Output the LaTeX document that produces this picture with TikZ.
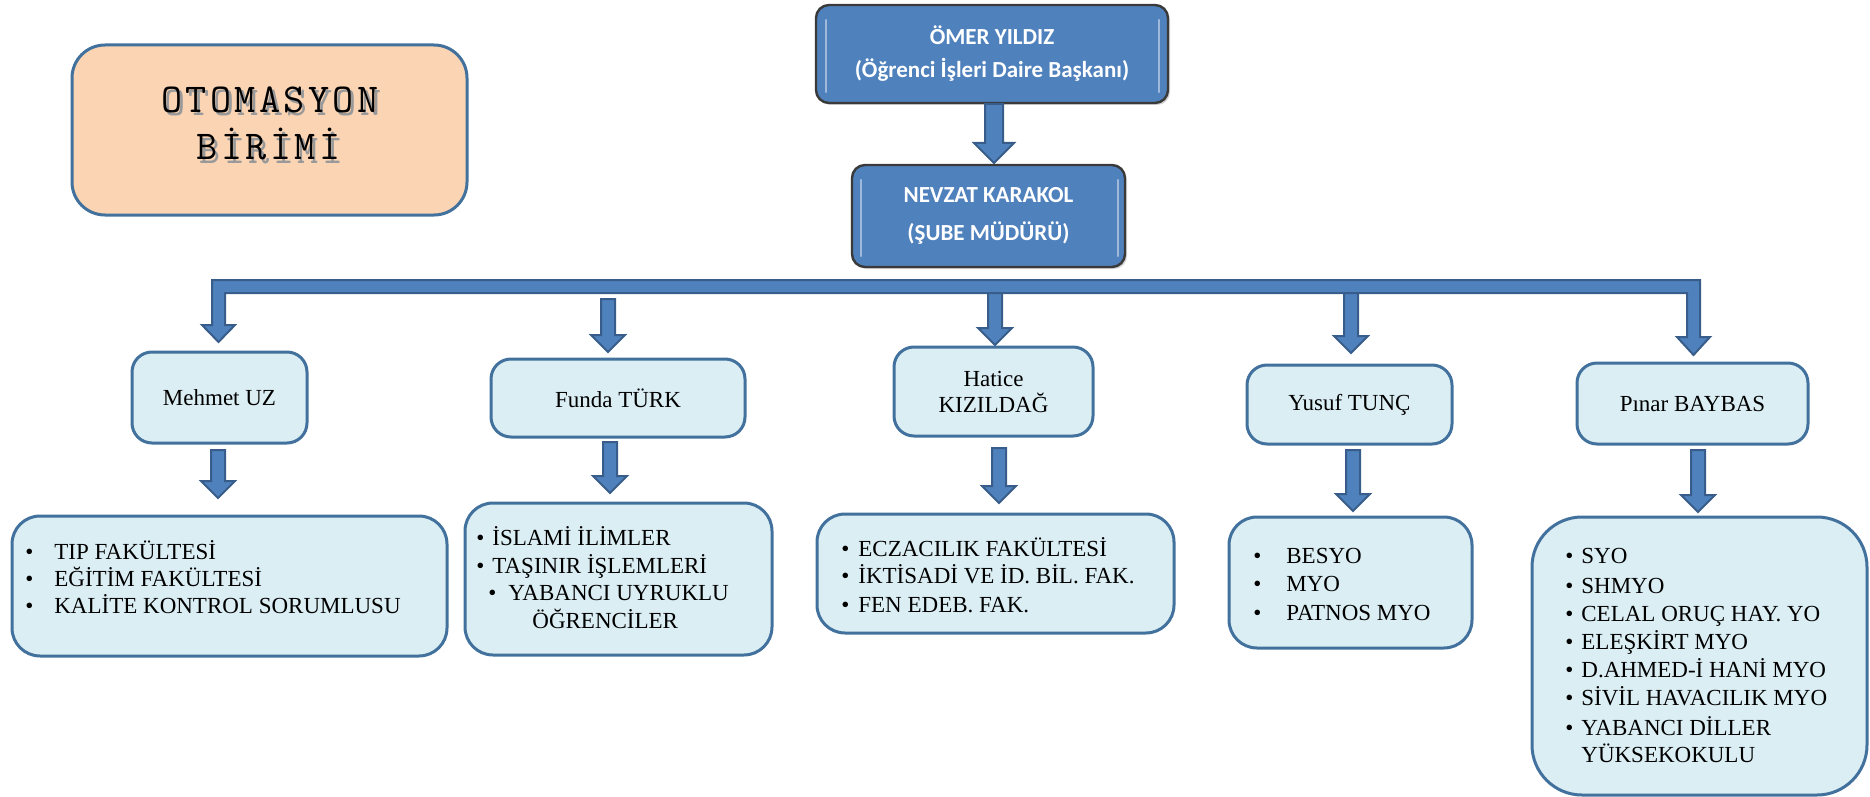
\documentclass[tikz,border=0pt]{standalone}
\usepackage{fontspec}
\setmainfont{Liberation Serif}
\newfontfamily\calib{Carlito}
\usetikzlibrary{calc,shadows}
\definecolor{hdrblue}{HTML}{4F81BD}
\definecolor{arrowedge}{HTML}{385D8A}
\definecolor{aqua}{HTML}{DBEEF4}
\definecolor{bordblue}{HTML}{41719C}
\definecolor{peach}{HTML}{FBD4B4}
\definecolor{topedge}{HTML}{3A3A3A}
\newcommand\mybul[1]{\makebox[#1][l]{\textbullet}}
\newcommand\courfont{\ttfamily\fontsize{20.5}{24}\selectfont}
\newcommand\ls{\kern1.7pt}
\newcommand\otomA{O\ls T\ls O\ls M\ls A\ls S\ls Y\ls O\ls N}
\newcommand\otomB{B\ls İ\ls R\ls İ\ls M\ls İ}
% block arrow between two named coordinates: top, tip, shaft half, head half, head length (pt)
\newcommand\blockarrow[5]{%
  \path[arrowstyle] let \p1=(#1), \p2=(#2) in
    (\x1-#3,\y1) -- (\x1+#3,\y1) -- (\x1+#3,\y2+#5) -- (\x1+#4,\y2+#5) --
    (\x2,\y2) -- (\x1-#4,\y2+#5) -- (\x1-#3,\y2+#5) -- cycle;}
\begin{document}
\begin{tikzpicture}[x=0.5pt,y=-0.5pt,
  arrowstyle/.style={fill=hdrblue,draw=arrowedge,line width=1pt,line join=miter},
  otombox/.style={draw=bordblue,line width=1.5pt,fill=peach,rounded corners=16.5pt},
  otomtext/.style={font=\courfont,inner sep=0pt,anchor=base},
  topbox/.style={fill=hdrblue,draw=topedge,line width=1.2pt,rounded corners=6.5pt,
    text=white,align=center,drop shadow={opacity=0.35,shadow xshift=1pt,shadow yshift=-1pt}},
  namebox/.style={fill=aqua,draw=bordblue,line width=1.5pt,rounded corners=10pt,
    align=center,font=\fontsize{11.5}{13}\selectfont},
  listbox/.style={fill=aqua,draw=bordblue,line width=1.5pt,rounded corners=14pt},
  item/.style={font=\fontsize{11.5}{13}\selectfont,inner sep=0pt,anchor=base west},
  bevel/.style={draw=white,opacity=0.45,line width=1pt,line cap=round}]
\useasboundingbox (0,0) rectangle (1870,797);

% OTOMASYON BIRIMI
\node[otombox,minimum width=197.5pt,minimum height=85pt] (otom) at (269.5,130) {};
\node[otomtext,text=black!40] (otomS1) at (273,116) {\otomA};
\node[otomtext,text=black!40] (otomS2) at (271.5,163) {\otomB};
\node[otomtext] (otom1) at (270,113) {\otomA};
\node[otomtext] (otom2) at (268.5,160) {\otomB};

% top boxes
\node[topbox,minimum width=176pt,minimum height=49pt,
  font=\calib\bfseries\fontsize{11.5}{16.5}\selectfont] (omer) at (992,54)
  {ÖMER YILDIZ\\(Öğrenci İşleri Daire Başkanı)};
\draw[bevel] ($(omer.north west)+(11,16)$) -- ($(omer.south west)+(11,-12)$);
\draw[bevel] ($(omer.north east)+(-10,16)$) -- ($(omer.south east)+(-10,-12)$);

\coordinate (a0t) at (994,104);
\coordinate (a0h) at (994,163);
\blockarrow{a0t}{a0h}{4.5pt}{10pt}{10pt}

\node[topbox,minimum width=136.5pt,minimum height=51pt,
  font=\calib\bfseries\fontsize{11.5}{19}\selectfont] (nevzat) at (988.5,216)
  {NEVZAT KARAKOL\\(ŞUBE MÜDÜRÜ)};
\draw[bevel] ($(nevzat.north west)+(10,16)$) -- ($(nevzat.south west)+(10,-12)$);
\draw[bevel] ($(nevzat.north east)+(-8,16)$) -- ($(nevzat.south east)+(-8,-12)$);

% first level arrows (under the bar)
\coordinate (afT) at (608,299);  \coordinate (afH) at (608,352);
\coordinate (ahT) at (995,290);  \coordinate (ahH) at (995,345);
\coordinate (ayT) at (1351,290); \coordinate (ayH) at (1351,353);
\blockarrow{afT}{afH}{3.5pt}{8.5pt}{8.5pt}
\blockarrow{ahT}{ahH}{3.5pt}{8.5pt}{8.5pt}
\blockarrow{ayT}{ayH}{3.5pt}{8.5pt}{8.5pt}

% distribution bar with the two end arrows
\path[arrowstyle] (212,280) -- (1700,280) -- (1700,337) -- (1710,337) -- (1693.5,355)
  -- (1677,337) -- (1687,337) -- (1687,293) -- (225,293) -- (225,325) -- (235,325)
  -- (218.5,342) -- (202,325) -- (212,325) -- cycle;

% name boxes
\node[namebox,minimum width=87.5pt,minimum height=45.5pt] (mehmet) at (219.5,397.5) {Mehmet UZ};
\node[namebox,minimum width=127pt,minimum height=39pt] (funda) at (618,398) {Funda TÜRK};
\node[namebox,minimum width=99.5pt,minimum height=44.5pt] (hatice) at (993.5,391.5) {Hatice\\KIZILDAĞ};
\node[namebox,minimum width=102.5pt,minimum height=39.5pt] (yusuf) at (1349.5,404.5) {Yusuf TUNÇ};
\node[namebox,minimum width=115.5pt,minimum height=40.5pt] (pinar) at (1692.5,403.5) {Pınar BAYBAS};

% second level arrows
\coordinate (bmT) at (218,450);  \coordinate (bmH) at (218,498);
\coordinate (bfT) at (610,442);  \coordinate (bfH) at (610,493);
\coordinate (bhT) at (999,448);  \coordinate (bhH) at (999,503);
\coordinate (byT) at (1353,450); \coordinate (byH) at (1353,511);
\coordinate (bpT) at (1698,450); \coordinate (bpH) at (1698,512);
\blockarrow{bmT}{bmH}{3.5pt}{8.5pt}{8.5pt}
\blockarrow{bfT}{bfH}{3.5pt}{8.5pt}{8.5pt}
\blockarrow{bhT}{bhH}{3.5pt}{8.5pt}{8.5pt}
\blockarrow{byT}{byH}{3.5pt}{8.5pt}{8.5pt}
\blockarrow{bpT}{bpH}{3.5pt}{8.5pt}{8.5pt}

% list boxes
\node[listbox,minimum width=217.5pt,minimum height=70pt] (mlist) at (229.5,586) {};
\node[listbox,minimum width=153.5pt,minimum height=76pt] (flist) at (618.5,579) {};
\node[listbox,minimum width=178.5pt,minimum height=59.5pt] (hlist) at (995.5,573.5) {};
\node[listbox,minimum width=121.5pt,minimum height=65.5pt] (ylist) at (1350.5,582.5) {};
\node[listbox,rounded corners=25pt,minimum width=167.5pt,minimum height=139pt] (plist) at (1699.5,656) {};

% list items
\node[item] (m1) at (25,559) {\mybul{14.5pt}TIP FAKÜLTESİ};
\node[item] (m2) at (25,586) {\mybul{14.5pt}EĞİTİM FAKÜLTESİ};
\node[item] (m3) at (25,613) {\mybul{14.5pt}KALİTE KONTROL SORUMLUSU};

\node[item] (f1) at (476,545) {\mybul{8pt}İSLAMİ İLİMLER};
\node[item] (f2) at (476,573) {\mybul{8pt}TAŞINIR İŞLEMLERİ};
\node[item] (f3) at (488,600) {\mybul{10pt}YABANCI UYRUKLU};
\node[item] (f4) at (532,628) {ÖĞRENCİLER};

\node[item] (h1) at (841,556) {\mybul{8.5pt}ECZACILIK FAKÜLTESİ};
\node[item] (h2) at (841,583) {\mybul{8.5pt}İKTİSADİ VE İD. BİL. FAK.};
\node[item] (h3) at (841,612) {\mybul{8.5pt}FEN EDEB. FAK.};

\node[item] (y1) at (1253,563) {\mybul{16.5pt}BESYO};
\node[item] (y2) at (1253,591) {\mybul{16.5pt}MYO};
\node[item] (y3) at (1253,620) {\mybul{16.5pt}PATNOS MYO};

\node[item] (p1) at (1565,563) {\mybul{8pt}SYO};
\node[item] (p2) at (1565,593) {\mybul{8pt}SHMYO};
\node[item] (p3) at (1565,621) {\mybul{8pt}CELAL ORUÇ HAY. YO};
\node[item] (p4) at (1565,649) {\mybul{8pt}ELEŞKİRT MYO};
\node[item] (p5) at (1565,677) {\mybul{8pt}D.AHMED-İ HANİ MYO};
\node[item] (p6) at (1565,705) {\mybul{8pt}SİVİL HAVACILIK MYO};
\node[item] (p7) at (1565,735) {\mybul{8pt}YABANCI DİLLER};
\node[item] (p8) at (1581,762) {YÜKSEKOKULU};
\end{tikzpicture}
\end{document}
